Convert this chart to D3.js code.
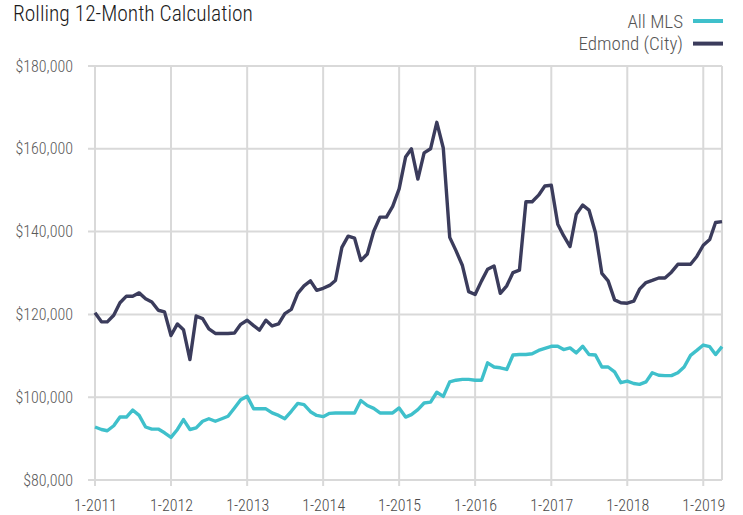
<!DOCTYPE html>
<html>
<head>
<meta charset="utf-8">
<script src="https://cdn.jsdelivr.net/npm/d3@7"></script>
<style>
  body { margin: 0; background: #fff; }
  text { font-family: "Liberation Sans Narrow", "Roboto Condensed", Roboto, sans-serif; }
</style>
</head>
<body>
<svg id="chart" width="743" height="515"></svg>
<script>
// monthly rolling 12-month values (thousands), Jan 2011 .. Apr 2019
const startMonth = '2011-01';
const allMLS = [
  92.8, 92.2, 91.9, 93.1, 95.2, 95.2, 96.9, 95.6, 92.8, 92.3, 92.3, 91.4,
  90.3, 92.2, 94.6, 92.2, 92.6, 94.2, 94.8, 94.2, 94.8, 95.4, 97.4, 99.4,
  100.2, 97.2, 97.2, 97.2, 96.2, 95.6, 94.8, 96.6, 98.5, 98.2, 96.5, 95.6,
  95.3, 96.1, 96.2, 96.2, 96.2, 96.2, 99.2, 98.0, 97.3, 96.2, 96.2, 96.2,
  97.4, 95.2, 95.8, 97.0, 98.6, 98.8, 101.2, 100.2, 103.7, 104.1, 104.3, 104.3,
  104.1, 104.1, 108.3, 107.3, 107.1, 106.7, 110.2, 110.3, 110.3, 110.5, 111.3, 111.8,
  112.3, 112.3, 111.5, 111.9, 110.7, 112.3, 110.3, 110.2, 107.3, 107.3, 106.1, 103.5,
  103.9, 103.3, 103.1, 103.7, 105.9, 105.3, 105.2, 105.2, 105.9, 107.3, 110.1, 111.3,
  112.6, 112.2, 110.3, 112.2
];
const edmond = [
  120.4, 118.2, 118.2, 119.8, 122.8, 124.4, 124.4, 125.2, 123.8, 123.0, 121.0, 120.6,
  114.9, 117.7, 116.3, 109.1, 119.6, 119.0, 116.5, 115.4, 115.4, 115.4, 115.5, 117.6,
  118.6, 117.3, 116.2, 118.6, 117.2, 117.7, 120.2, 121.2, 125.1, 126.9, 128.1, 125.8,
  126.3, 127.0, 128.2, 136.2, 138.9, 138.4, 133.0, 134.6, 140.1, 143.5, 143.5, 146.1,
  150.3, 158.0, 160.0, 152.7, 159.0, 160.0, 166.4, 160.2, 138.6, 135.4, 131.8, 125.5,
  124.8, 128.1, 130.9, 131.7, 125.1, 126.9, 130.1, 130.7, 147.2, 147.2, 148.8, 151.0,
  151.2, 141.8, 139.0, 136.4, 144.2, 146.4, 145.2, 139.8, 129.9, 128.1, 123.5, 122.8,
  122.7, 123.2, 126.1, 127.7, 128.2, 128.8, 128.8, 130.2, 132.1, 132.1, 132.1, 134.0,
  136.7, 138.1, 142.2, 142.4
];
const seriesNames = ['All MLS', 'Edmond (City)'];
const seriesColors = ['#3fc0cb', '#3b3c5c'];
const yTicks = [80000, 100000, 120000, 140000, 160000, 180000];
const tickLabels = ['1-2011', '1-2012', '1-2013', '1-2014', '1-2015', '1-2016', '1-2017', '1-2018', '1-2019'];

const svg = d3.select('#chart');
const margin = {top: 66, right: 21, bottom: 35, left: 95};
const width = 743 - margin.left - margin.right;
const height = 515 - margin.top - margin.bottom;

const parseMonth = d3.timeParse('%Y-%m');
const t0 = parseMonth(startMonth);
const dates = allMLS.map((d, i) => d3.timeMonth.offset(t0, i));

const x = d3.scaleTime()
  .domain([dates[0], dates[dates.length - 1]])
  .range([0, width]);
const y = d3.scaleLinear()
  .domain([80000, 180000])
  .range([height, 0]);

const g = svg.append('g').attr('transform', `translate(${margin.left},${margin.top})`);

// grid
const tickDates = tickLabels.map(l => d3.timeParse('%m-%Y')(l));
g.selectAll('.vgrid')
  .data(tickDates.concat([dates[dates.length - 1]]))
  .enter()
  .append('line')
  .attr('class', 'vgrid')
  .attr('x1', d => x(d)).attr('x2', d => x(d))
  .attr('y1', 0).attr('y2', (d, i) => i < tickDates.length ? height + 6 : height)
  .attr('stroke', '#d9d9d9').attr('stroke-width', 2);

g.selectAll('.hgrid')
  .data(yTicks)
  .enter()
  .append('line')
  .attr('class', 'hgrid')
  .attr('x1', -7).attr('x2', width)
  .attr('y1', d => y(d)).attr('y2', d => y(d))
  .attr('stroke', '#d9d9d9').attr('stroke-width', 2);

// axes labels
const yAxis = g.append('g')
  .call(d3.axisLeft(y).tickValues(yTicks).tickFormat(d3.format('$,')).tickSize(0).tickPadding(22));
yAxis.select('.domain').remove();
yAxis.selectAll('text').attr('fill', '#5a5a5a').style('font-size', '16px').style('font-weight', 300);

const xAxis = g.append('g')
  .attr('transform', `translate(0,${height})`)
  .call(d3.axisBottom(x).tickValues(tickDates).tickFormat((d, i) => tickLabels[i]).tickSize(0).tickPadding(20));
xAxis.select('.domain').remove();
xAxis.selectAll('text').attr('fill', '#4a4a4a').style('font-size', '16px').style('font-weight', 300);

// lines
const line = d3.line()
  .x((d, i) => x(dates[i]))
  .y(d => y(d * 1000));

[allMLS, edmond].forEach((series, k) => {
  g.append('path')
    .datum(series)
    .attr('d', line)
    .attr('fill', 'none')
    .attr('stroke', seriesColors[k])
    .attr('stroke-width', 3.4)
    .attr('stroke-linejoin', 'round');
});

// title
svg.append('text')
  .attr('x', 13).attr('y', 21)
  .attr('fill', '#1a1a1a')
  .style('font-size', '21.5px')
  .style('font-weight', 300)
  .text('Rolling 12-Month Calculation');

// legend
const legend = svg.selectAll('.legend')
  .data(seriesNames)
  .enter()
  .append('g')
  .attr('class', 'legend')
  .attr('transform', (d, i) => `translate(0,${21 + i * 22.6})`);
legend.append('line')
  .attr('x1', 693).attr('x2', 723)
  .attr('y1', 0).attr('y2', 0)
  .attr('stroke', (d, i) => seriesColors[i])
  .attr('stroke-width', 4);
legend.append('text')
  .attr('x', 683).attr('y', 6.5)
  .attr('text-anchor', 'end')
  .attr('fill', '#555')
  .style('font-size', '19px')
  .style('font-weight', 300)
  .text(d => d);
</script>
</body>
</html>
